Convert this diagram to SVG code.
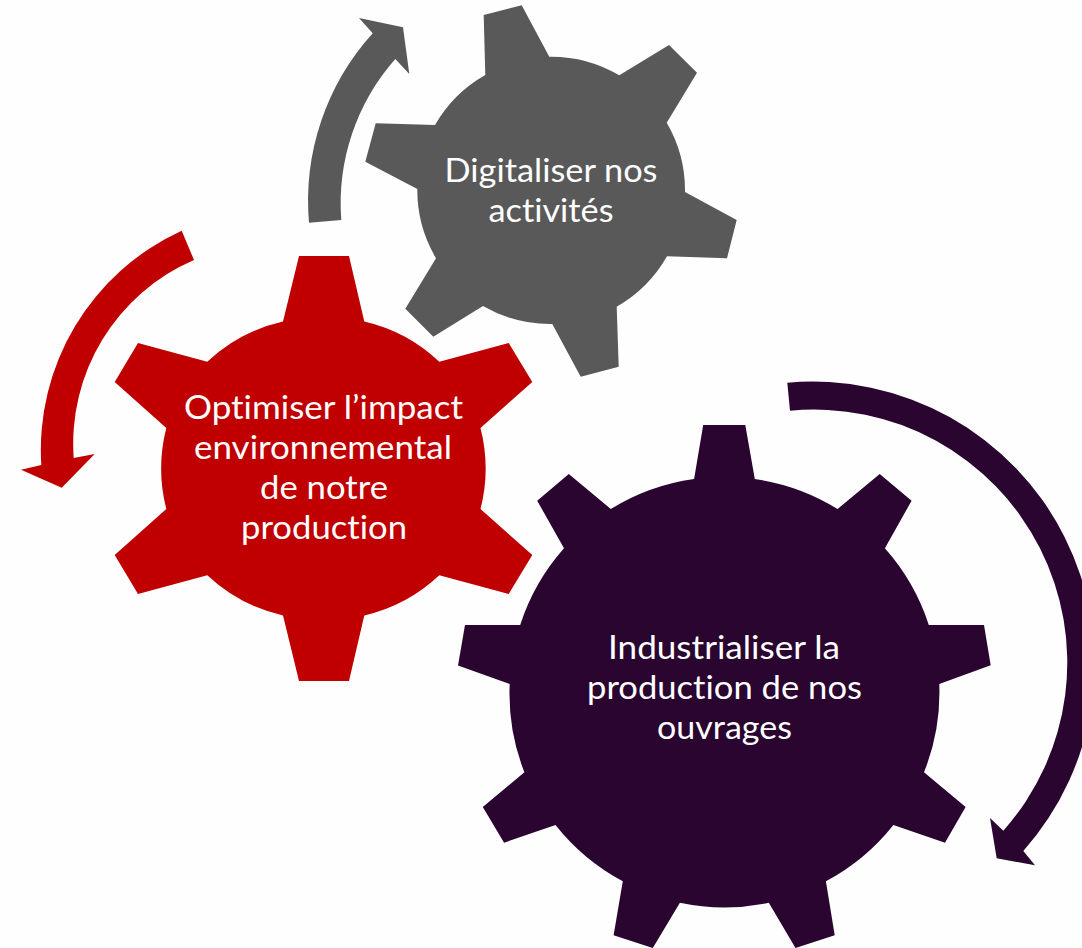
<svg xmlns="http://www.w3.org/2000/svg" width="1082" height="948" viewBox="0 0 1082 948">
<style>
.grey{fill:#595959}
.red{fill:#c00000}
.dark{fill:#290530}
text{font-family:Lato,"Liberation Sans",sans-serif;font-size:32px;fill:#fff;text-anchor:middle;font-variant-ligatures:none}
</style>
<rect width="1082" height="948" fill="#fefefe"/>
<g id="connectors">
<path class="grey" d="M309 222.7A250 250 0 0 1 372.7 33.3L359 18L403 27.3L409.3 74L395.3 59A218 218 0 0 0 341.3 220Z"/>
<path class="red" d="M181.7 230.7A241 241 0 0 0 41.3 465L21 469.7L61.7 487.7L94.7 454L73.7 458A200 200 0 0 1 194 260Z"/>
<path class="dark" d="M787.3 382.7A282 282 0 0 1 1023.3 851L1035 865.3L996.7 858.3L990 818L1003.3 830.7A253 253 0 0 0 790 410.7Z"/>
</g>
<g id="node-digitaliser">
<path class="grey" d="M483.7 15L521.7 5.3L549.3 56.7A134 134 0 0 1 619.3 75.3L669 45L697 72.7L666.7 122.7A134 134 0 0 1 685 192L736.7 220L727 258.3L667 256.3A134 134 0 0 1 616.7 306.7L618.7 366.7L580.7 376.7L552.3 324A134 134 0 0 1 483 306L433.3 336.7L405.3 308.7L436 258.3A134 134 0 0 1 417.3 189L365.3 161.7L375.7 123.3L435 125A134 134 0 0 1 485.3 75Z"/>
<text x="551" y="182" textLength="213" lengthAdjust="spacingAndGlyphs">Digitaliser nos</text>
<text x="551" y="222" textLength="125" lengthAdjust="spacingAndGlyphs">activités</text>
</g>
<g id="node-optimiser">
<path class="red" d="M283 321.5L299 256H349L364.3 321.5A163 163 0 0 1 439.3 361.7L508.7 343L532.3 382L480.5 428A163 163 0 0 1 480.5 509L532.3 555L508.7 594L439.3 575.3A163 163 0 0 1 364.3 615.5L349 681H299L283 615.5A163 163 0 0 1 207.3 575.3L138 594L114.7 555L166.3 509A163 163 0 0 1 166.3 428L114.7 382L138 343L207.3 361.7A163 163 0 0 1 283 321.5Z"/>
<text x="323.5" y="419" textLength="279" lengthAdjust="spacingAndGlyphs">Optimiser l’impact</text>
<text x="323" y="459" textLength="258" lengthAdjust="spacingAndGlyphs">environnemental</text>
<text x="324" y="499" textLength="128" lengthAdjust="spacingAndGlyphs">de notre</text>
<text x="324" y="539" textLength="166" lengthAdjust="spacingAndGlyphs">production</text>
</g>
<g id="node-industrialiser">
<path class="dark" d="M694.1 479L703.2 425H745.3L754.8 479A215 215 0 0 1 837.6 509L879.7 474L911.6 500.7L884.9 548.3A215 215 0 0 1 928.8 625H984L990.7 665.3L939.3 684A215 215 0 0 1 924 772.3L965.6 807L945 842.7L893.4 825A215 215 0 0 1 825.9 881.3L834.7 935.3L795.5 948L768.8 902.7A215 215 0 0 1 679.9 902.7L652.8 948L613.6 935.3L622.8 881.3A215 215 0 0 1 555.5 825L504.1 842.7L482.8 807L524.4 772.3A215 215 0 0 1 509.7 684L458 665.6L465 625H520.2A215 215 0 0 1 564 548.3L537.2 500.7L568.8 474L610.8 509A215 215 0 0 1 694.1 479Z"/>
<text x="724" y="659" textLength="232" lengthAdjust="spacingAndGlyphs">Industrialiser la</text>
<text x="724.5" y="699" textLength="275" lengthAdjust="spacingAndGlyphs">production de nos</text>
<text x="724.5" y="739" textLength="135" lengthAdjust="spacingAndGlyphs">ouvrages</text>
</g>
</svg>
